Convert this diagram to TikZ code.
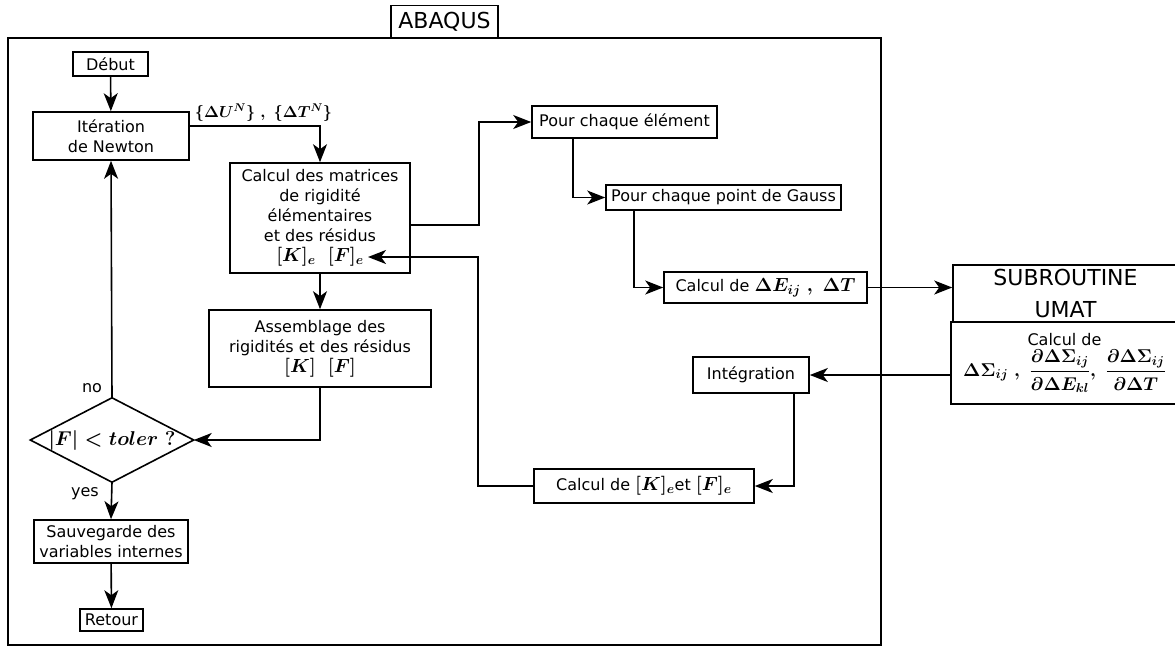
\RequirePackage{fix-cm}
\documentclass[tikz,border=0pt]{standalone}
\usepackage[no-math]{fontspec}
\setmainfont{DejaVu Sans}
\usepackage{amsmath}
\usetikzlibrary{arrows.meta}
\newcommand{\Bmath}[1]{{\boldmath$#1$}}
\newcommand{\fs}[1]{\fontsize{#1}{#1}\selectfont}
\begin{document}
\begin{tikzpicture}[x=1pt,y=-1pt,
  every node/.style={font=\fontsize{16}{20}\selectfont, inner sep=0pt},
  box/.style={draw, line width=1.6pt, rectangle, align=center, fill=white},
  arr/.style={line width=1.6pt, -{Stealth[length=18pt,width=14pt,inset=5pt]}},
  frame/.style={draw, line width=1.6pt}]
\useasboundingbox (0,0) rectangle (1175,646);
\fill[white] (0,0) rectangle (1175,646);
% outer frame
\draw[frame] (8,38) rectangle (881,645);
\node[box, minimum width=107pt, minimum height=32pt, font=\fontsize{22}{26}\selectfont] (abaqus) at (444.5,21.5) {ABAQUS};

% left column
\node[box, minimum width=75pt, minimum height=24pt] (debut) at (110.5,64) {Début};
\node[box, minimum width=156pt, minimum height=48pt] (iter) at (111,136) {Itération\\de Newton};
\node[box, minimum width=180pt, minimum height=110pt] (calc) at (320,218)
  {Calcul des matrices\\de rigidité\\élémentaires\\et des résidus\\{\fs{19}\Bmath{[K]_e\ \ [F]_e}}};
\node[box, minimum width=222pt, minimum height=77pt] (assem) at (320,348.5)
  {Assemblage des\\rigidités et des résidus\\{\fs{19}\Bmath{[K]\ \ [F]}}};
\node[minimum width=163pt, minimum height=84pt] (test) at (112,440)
  {\fs{20}\Bmath{|F| < toler\ ?}};
\draw[line width=1.6pt] (test.north) -- (test.east) -- (test.south) -- (test.west) -- cycle;
\node (no) at (92,388) {no};
\node (yes) at (85,494) {yes};
\node[box, minimum width=154pt, minimum height=43pt] (sauv) at (111,541.5) {Sauvegarde des\\variables internes};
\node[box, minimum width=63pt, minimum height=22pt] (retour) at (111.5,620) {Retour};
\node (lab) at (263.5,113) {\fs{16}\Bmath{\{\Delta U^N\}\ ,\ \{\Delta T^N\}}};

% right part
\node[box, minimum width=185pt, minimum height=32pt] (elem) at (624.5,122) {Pour chaque élément};
\node[box, minimum width=235pt, minimum height=25pt] (gauss) at (723.5,197.5) {Pour chaque point de Gauss};
\node[box, minimum width=203pt, minimum height=31pt] (dE) at (765.5,287.5) {Calcul de {\fs{19}\Bmath{\Delta E_{ij}\;,\ \Delta T}}};
\node[box, minimum width=225pt, minimum height=57pt, font=\fontsize{22}{32}\selectfont] (umat) at (1065.5,293.5) {SUBROUTINE\\UMAT};
\node[box, minimum width=227pt, minimum height=82pt] (umatc) at (1064.5,363)
  {Calcul de\\[3pt]{\fs{18.5}\Bmath{\Delta\Sigma_{ij}\;,\;\dfrac{\partial\Delta\Sigma_{ij}}{\partial\Delta E_{kl}},\;\dfrac{\partial\Delta\Sigma_{ij}}{\partial\Delta T}}}};
\node[box, minimum width=116pt, minimum height=36pt] (integ) at (751,375) {Intégration};
\node[box, minimum width=220pt, minimum height=34pt] (calckf) at (644,486)
  {Calcul de {\fs{19}\Bmath{[K]_e}}et {\fs{19}\Bmath{[F]_e}}};

\coordinate (j1) at (479,0);
\coordinate (j2) at (478,257);
\coordinate (kfin) at (368,257);

% connectors
\draw[arr] (debut) -- (iter);
\draw[arr] ([yshift=10pt]iter.east) -| (calc.north);
\draw[arr] (calc) -- (assem);
\draw[arr] (assem.south) |- (test.east);
\draw[arr] (test.north) -- (iter.south);
\draw[arr] (test.south) -- (sauv.north);
\draw[arr] (sauv) -- (retour);
\draw[arr] ([yshift=-7pt]calc.east) -| (j1 |- elem.west) -- (elem.west);
\draw[arr] ([xshift=-51.5pt]elem.south) |- (gauss.west);
\draw[arr] ([xshift=-89.5pt]gauss.south) |- (dE.west);
\draw[arr] (dE.east) -- (dE.east -| umat.west);
\draw[arr] (umatc.west |- integ.east) -- (integ.east);
\draw[arr] ([xshift=43pt]integ.south) |- (calckf.east);
\draw[arr] (calckf.west) -| (j2) -- (kfin);
\end{tikzpicture}
\end{document}
